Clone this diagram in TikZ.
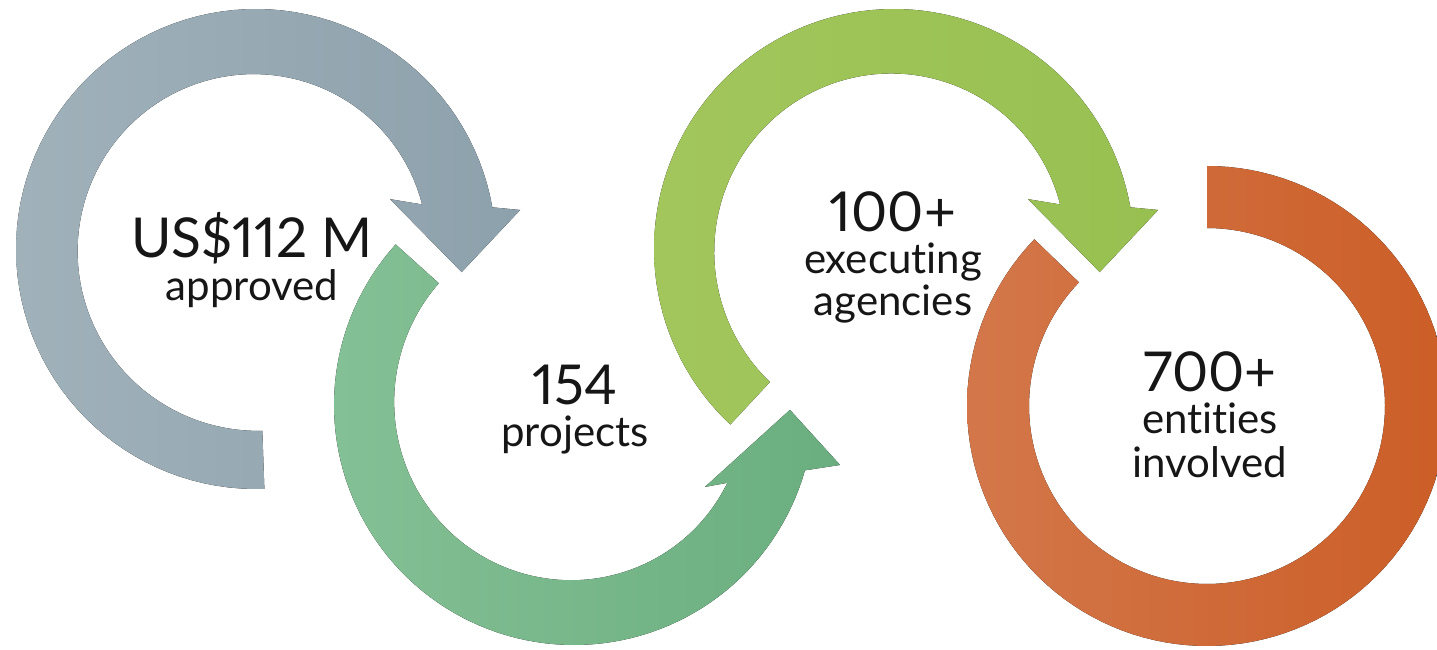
\documentclass[tikz,border=0pt]{standalone}
\usepackage{fontspec}
\setmainfont{Lato}[Numbers=Proportional,Ligatures=NoCommon]
\definecolor{slateL}{HTML}{A0B1BA}
\definecolor{slateR}{HTML}{8DA1AC}
\definecolor{greenL}{HTML}{84C095}
\definecolor{greenR}{HTML}{6AAE7F}
\definecolor{limeL}{HTML}{A2C65C}
\definecolor{limeR}{HTML}{98C051}
\definecolor{rustL}{HTML}{D3774A}
\definecolor{rustR}{HTML}{CC5E27}
\definecolor{ink}{HTML}{161616}
\begin{document}
\begin{tikzpicture}[x=1pt,y=1pt,
  bignum/.style={anchor=base,font=\fontsize{55}{60}\selectfont,text=ink,inner sep=0pt},
  caption/.style={anchor=base,font=\fontsize{42}{48}\selectfont,text=ink,inner sep=0pt}]
\useasboundingbox (0,0) rectangle (1437,650);
\clip (0,0) rectangle (1437,650);
\fill[white] (0,0) rectangle (1437,650);

% slate arrow: tail at the bottom, runs clockwise, head on the right
\begin{scope}[shift={(256,401)}]
  \fill[left color=slateL,right color=slateR]
    plot[domain=272:10,samples=90] (\x:240)
    -- (8.4:267) -- (-6.4:207) -- (20.4:143) -- (15:{240-68})
    -- plot[domain=15:272,samples=90] (\x:{240-58-10*(272-\x)/257}) -- cycle;
\end{scope}

% green arrow: tail upper left, runs counter-clockwise, head upper right
\begin{scope}[shift={(574,245)}]
  \fill[left color=greenL,right color=greenR]
    plot[domain=138:344.2,samples=90] (\x:240)
    -- (347.3:272.7) -- (358.7:216) -- (328:154.5) -- (333.1:{240-68})
    -- plot[domain=333.1:138,samples=90] (\x:{240-58-10*(\x-138)/195}) -- cycle;
\end{scope}

% lime arrow: tail lower left, runs clockwise, head on the right
\begin{scope}[shift={(894,401)}]
  \fill[left color=limeL,right color=limeR]
    plot[domain=227:10,samples=90] (\x:240)
    -- (8.4:267) -- (-6.4:207) -- (20.4:143) -- (15:{240-68})
    -- plot[domain=15:227,samples=90] (\x:{240-58-10*(227-\x)/212}) -- cycle;
\end{scope}

% rust ring: open ring from the top round to the upper left
\begin{scope}[shift={(1207,244)}]
  \fill[left color=rustL,right color=rustR]
    plot[domain=90:-224,samples=120] (\x:240)
    -- plot[domain=-224:90,samples=120] (\x:178) -- cycle;
\end{scope}

% labels
\node[bignum] (n1) at (252,392) {US\$112 M};
\node[caption] (c1) at (252,349) {approved};
\node[bignum] (n2) at (575,245) {154};
\node[caption] (c2) at (575,203) {projects};
\node[bignum] (n3) at (893,418) {100+};
\node[caption] (c3) at (893,376) {executing};
\node[caption] (c3b) at (893,334) {agencies};
\node[bignum] (n4) at (1210,258) {700+};
\node[caption] (c4) at (1210,216) {entities};
\node[caption] (c4b) at (1210,172) {involved};
\end{tikzpicture}
\end{document}
